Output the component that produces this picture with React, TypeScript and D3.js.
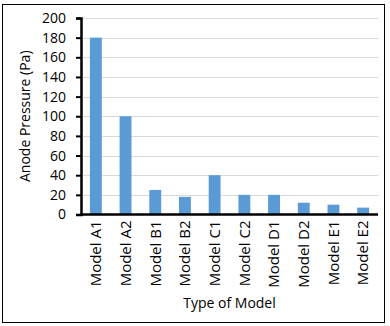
import React, { useEffect, useRef } from "react";
import * as d3 from "d3";

const categories = [
  "Model A1",
  "Model A2",
  "Model B1",
  "Model B2",
  "Model C1",
  "Model C2",
  "Model D1",
  "Model D2",
  "Model E1",
  "Model E2",
];
const pressure = [180, 100, 25, 18, 40, 20, 20, 12, 10, 7];
const yTicks = [0, 20, 40, 60, 80, 100, 120, 140, 160, 180, 200];

const FONT = "'Open Sans', 'Liberation Sans', sans-serif";

const App = () => {
  const chartRef = useRef<HTMLDivElement>(null);

  useEffect(() => {
    const width = 390;
    const height = 326;
    const left = 81;
    const right = 378;
    const top = 18;
    const bottom = 214.5;

    d3.select(chartRef.current).selectAll("*").remove();

    const svg = d3
      .select(chartRef.current)
      .append("svg")
      .attr("width", width)
      .attr("height", height)
      .style("position", "absolute")
      .style("left", "0px")
      .style("top", "0px")
      .style("font-family", FONT);

    // chart frame
    svg
      .append("rect")
      .attr("x", 2.5)
      .attr("y", 4.5)
      .attr("width", 382)
      .attr("height", 318)
      .attr("fill", "#fff")
      .attr("stroke", "#000")
      .attr("stroke-width", 1);

    const x = d3
      .scaleBand()
      .domain(categories)
      .range([left, right])
      .paddingInner(0.6)
      .paddingOuter(0.3);

    const y = d3.scaleLinear().domain([0, 200]).range([bottom, top]);

    // gridlines
    svg
      .selectAll(".grid")
      .data(yTicks.slice(1))
      .enter()
      .append("line")
      .attr("class", "grid")
      .attr("x1", left)
      .attr("x2", right)
      .attr("y1", (d) => Math.round(y(d)) + 0.5)
      .attr("y2", (d) => Math.round(y(d)) + 0.5)
      .attr("stroke", "#d9d9d9")
      .attr("stroke-width", 1);

    // bars
    svg
      .selectAll(".bar")
      .data(pressure)
      .enter()
      .append("rect")
      .attr("class", "bar")
      .attr("x", (_, i) => x(categories[i])!)
      .attr("y", (d) => y(d))
      .attr("width", x.bandwidth())
      .attr("height", (d) => bottom - y(d))
      .attr("fill", "#5b9bd5");

    // y axis
    const yAxis = svg
      .append("g")
      .attr("transform", `translate(${left},0)`)
      .call(
        d3
          .axisLeft(y)
          .tickValues(yTicks)
          .tickSize(5)
          .tickPadding(10)
          .tickFormat(d3.format("d"))
      );
    yAxis.select(".domain").attr("stroke", "#000").attr("stroke-width", 2.5);
    yAxis.selectAll(".tick line").attr("stroke", "#000").attr("stroke-width", 2);
    yAxis
      .selectAll(".tick text")
      .attr("fill", "#000")
      .style("font-size", "14px")
      .style("font-family", FONT);

    // x axis
    const xAxis = svg
      .append("g")
      .attr("transform", `translate(0,${bottom})`)
      .call(d3.axisBottom(x).tickSize(0).tickPadding(0));
    xAxis
      .select(".domain")
      .attr("d", `M${left - 1},0H${right}`)
      .attr("stroke", "#000")
      .attr("stroke-width", 2.5);
    xAxis
      .selectAll(".tick text")
      .attr("fill", "#000")
      .attr("transform", "rotate(-90)")
      .attr("x", -6)
      .attr("y", 0)
      .attr("dy", "0.35em")
      .attr("text-anchor", "end")
      .style("font-size", "15px")
      .style("font-family", FONT);

    // axis titles
    svg
      .append("text")
      .attr("transform", `translate(30,${(top + bottom) / 2}) rotate(-90)`)
      .attr("text-anchor", "middle")
      .attr("font-size", 14)
      .attr("fill", "#000")
      .text("Anode Pressure (Pa)");

    svg
      .append("text")
      .attr("x", (left + right) / 2)
      .attr("y", 308)
      .attr("text-anchor", "middle")
      .attr("font-size", 14)
      .attr("fill", "#000")
      .text("Type of Model");
  }, []);

  return <div ref={chartRef}></div>;
};

export default App;
